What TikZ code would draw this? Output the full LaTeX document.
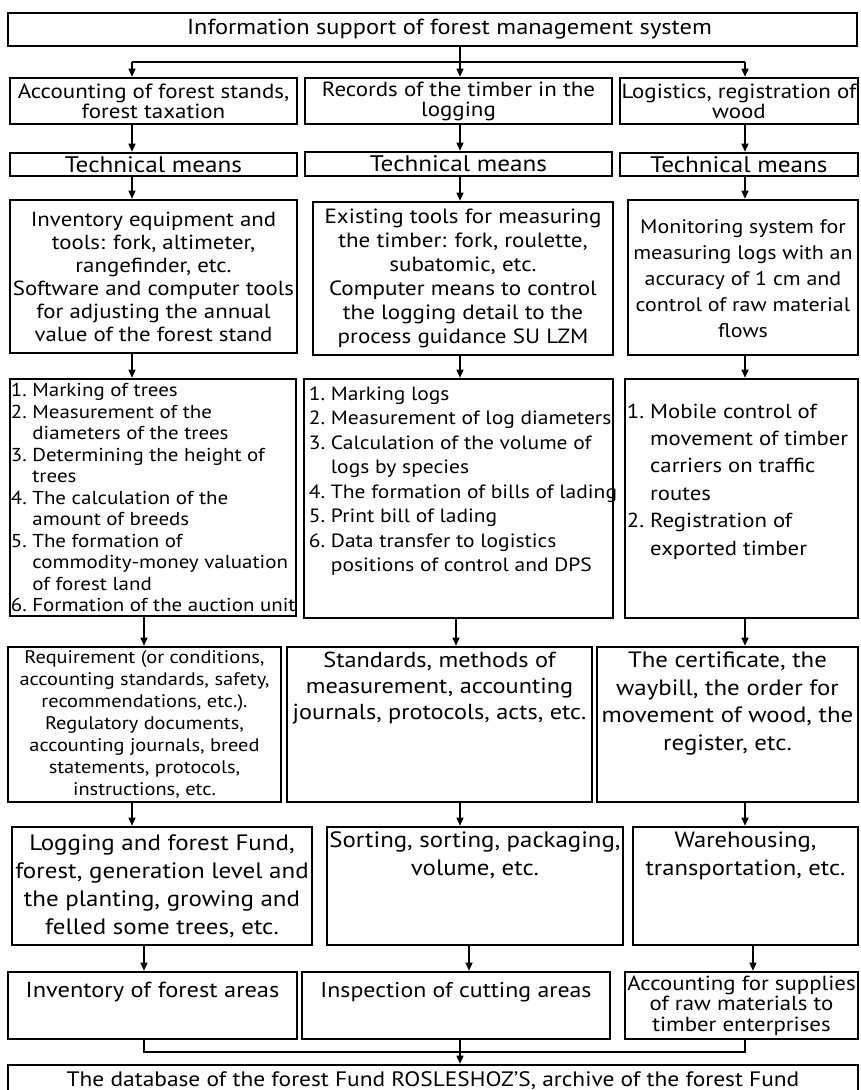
\documentclass[tikz,border=0pt]{standalone}
\usepackage{fontspec}
\setmainfont{PT Sans}[FakeStretch=1.12]
\usetikzlibrary{arrows.meta}
\newcommand\fsz[2]{\fontsize{#1}{#2}\selectfont}
% box given by its corners (x1,y1)-(x2,y2), y grows downwards
\newcommand\bx[7]{\node[box,#6,minimum width={(#4)-(#2)},minimum height={(#5)-(#3)}] (#1) at ({((#2)+(#4))/2},{((#3)+(#5))/2}) {#7};}
\begin{document}
\begin{tikzpicture}[x=1pt,y=-1pt,
  box/.style={draw, line width=2.6pt, inner sep=0pt, align=center, font=\fsz{20}{22}},
  txt/.style={inner sep=0pt, align=center},
  lst/.style={inner sep=0pt, align=left},
  arr/.style={line width=1.4pt, -{Triangle[length=8pt,width=7pt]}},
  ln/.style={line width=1.4pt}]
\useasboundingbox (0,0) rectangle (861,1090);

% top
\bx{T}{8}{13}{857}{46}{font=\fsz{21.8}{24}}{\hspace*{34pt}Information support of forest management system}

% row 2
\bx{A2}{10}{78}{297}{124}{font=\fsz{20.5}{20}}{Accounting of forest stands,\\ forest taxation}
\bx{B2}{305}{78}{612}{124}{font=\fsz{20.5}{20}}{Records of the timber in the\\ logging}
\bx{C2}{620}{78}{858}{124}{font=\fsz{20.5}{20}}{Logistics, registration of\\ wood}

% row 3
\bx{A3}{10}{153}{297}{176}{font=\fsz{22.5}{24}}{Technical means}
\bx{B3}{305}{152}{612}{176}{font=\fsz{22.5}{24}}{Technical means}
\bx{C3}{620}{153}{858}{176}{font=\fsz{22.5}{24}}{Technical means}

% row 4
\bx{A4}{10}{200}{297}{353}{font=\fsz{20.4}{23}}{Inventory equipment and\\ tools: fork, altimeter,\\ rangefinder, etc.\\ Software and computer tools\\ for adjusting the annual\\ value of the forest stand}
\bx{B4}{313}{202}{613}{355}{font=\fsz{20.6}{24}}{Existing tools for measuring\\ the timber: fork, roulette,\\ subatomic, etc.\\ Computer means to control\\ the logging detail to the\\ process guidance SU LZM}
\bx{C4}{628}{200}{858}{355}{}{}
\node[txt, font=\fsz{19.6}{26}] (C4t) at ([yshift=-1pt]C4.center) {Monitoring system for\\ measuring logs with an\\ accuracy of 1 cm and\\ control of raw material\\ flows};

% row 5
\bx{A5}{10}{379}{296}{616}{}{}
\bx{B5}{304}{379}{613}{618}{}{}
\bx{C5}{625}{379}{858}{618}{}{}
\node[lst, anchor=north west, font=\fsz{18.7}{21.5}] (A5t) at ([xshift=2pt,yshift=-4pt]A5.north west)
 {\begin{tabular}{@{}l@{\ }l@{}}
  1. & Marking of trees\\
  2. & Measurement of the\\
     & diameters of the trees\\
  3. & Determining the height of\\
     & trees\\
  4. & The calculation of the\\
     & amount of breeds\\
  5. & The formation of\\
     & commodity-money valuation\\
     & of forest land\\
  6. & Formation of the auction unit
 \end{tabular}};
\node[lst, anchor=north west, font=\fsz{19.2}{24.5}] (B5t) at ([xshift=6pt,yshift=-5pt]B5.north west)
 {\begin{tabular}{@{}l@{\ }l@{}}
  1. & Marking logs\\
  2. & Measurement of log diameters\\
  3. & Calculation of the volume of\\
     & logs by species\\
  4. & The formation of bills of lading\\
  5. & Print bill of lading\\
  6. & Data transfer to logistics\\
     & positions of control and DPS
 \end{tabular}};
\node[lst, anchor=north west, font=\fsz{20.3}{27.4}] (C5t) at ([xshift=3pt,yshift=-21pt]C5.north west)
 {\begin{tabular}{@{}l@{\ }l@{}}
  1. & Mobile control of\\
     & movement of timber\\
     & carriers on traffic\\
     & routes\\
  2. & Registration of\\
     & exported timber
 \end{tabular}};

% row 6
\bx{A6}{8}{647}{281}{802}{font=\fsz{18.2}{22}}{Requirement (or conditions,\\ accounting standards, safety,\\ recommendations, etc.).\\ Regulatory documents,\\ accounting journals, breed\\ statements, protocols,\\ instructions, etc.}
\bx{B6}{287}{647}{592}{802}{}{}
\bx{C6}{597}{647}{858}{802}{}{}
\node[txt, anchor=north, font=\fsz{21.7}{26}] (B6t) at ([yshift=-6pt]B6.north) {Standards, methods of\\ measurement, accounting\\ journals, protocols, acts, etc.};
\node[txt, anchor=north, font=\fsz{22.2}{27.5}] (C6t) at ([yshift=-6pt]C6.north) {The certificate, the\\ waybill, the order for\\ movement of wood, the\\ register, etc.};

% row 7
\bx{A7}{12}{827}{312}{945}{font=\fsz{22.3}{28}}{Logging and forest Fund,\\ forest, generation level and\\ the planting, growing and\\ felled some trees, etc.}
\bx{B7}{327}{827}{623}{945}{}{}
\bx{C7}{633}{827}{858}{945}{}{}
\node[txt, anchor=north, font=\fsz{22.2}{28}] (B7t) at ([yshift=-6pt]B7.north) {Sorting, sorting, packaging,\\ volume, etc.};
\node[txt, anchor=north, font=\fsz{22}{28}] (C7t) at ([yshift=-6pt]C7.north) {Warehousing,\\ transportation, etc.};

% row 8
\bx{A8}{8}{972}{297}{1039}{font=\fsz{21.8}{26}}{Inventory of forest areas\\[6pt]}
\bx{B8}{302}{972}{610}{1039}{font=\fsz{21.3}{26}}{Inspection of cutting areas\\[6pt]}
\bx{C8}{625}{972}{858}{1039}{font=\fsz{20.4}{20.5}}{Accounting for supplies\\ of raw materials to\\ timber enterprises}

% bottom
\bx{D}{8}{1065}{858}{1096}{font=\fsz{20.9}{24}}{\raisebox{3pt}{The database of the forest Fund ROSLESHOZ’S, archive of the forest Fund}}

% column positions of the connectors
\coordinate (k1) at (132,0);
\coordinate (k2) at (460,0);
\coordinate (k3) at (745,0);
\coordinate (m1) at (144,0);
\coordinate (m2) at (456,0);
\coordinate (n2) at (469,0);
\coordinate (n3) at (753,0);
\coordinate (bus) at (0,62);
\coordinate (bus2) at (0,1052);

% connectors
\draw[ln] (T.south -| k2) -- (bus -| k2);
\draw[ln] (bus -| k1) -- (bus -| k3);
\foreach \c in {k1,k2,k3} \draw[arr] (bus -| \c) -- (A2.north -| \c);
\draw[arr] (A2.south -| k1) -- (A3.north -| k1);
\draw[arr] (B2.south -| k2) -- (B3.north -| k2);
\draw[arr] (C2.south -| k3) -- (C3.north -| k3);
\draw[arr] (A3.south -| k1) -- (A4.north -| k1);
\draw[arr] (B3.south -| k2) -- (B4.north -| k2);
\draw[arr] (C3.south -| k3) -- (C4.north -| k3);
\draw[arr] (A4.south -| k1) -- (A5.north -| k1);
\draw[arr] (B4.south -| k2) -- (B5.north -| k2);
\draw[arr] (C4.south -| k3) -- (C5.north -| k3);
\draw[arr] (A5.south -| m1) -- (A6.north -| m1);
\draw[arr] (B5.south -| m2) -- (B6.north -| m2);
\draw[arr] (C5.south -| k3) -- (C6.north -| k3);
\draw[arr] (A6.south -| k1) -- (A7.north -| k1);
\draw[arr] (B6.south -| k2) -- (B7.north -| k2);
\draw[arr] (C6.south -| k3) -- (C7.north -| k3);
\draw[arr] (A7.south -| m1) -- (A8.north -| m1);
\draw[arr] (B7.south -| n2) -- (B8.north -| n2);
\draw[arr] (C7.south -| n3) -- (C8.north -| n3);
\draw[ln] (A8.south -| m1) -- (bus2 -| m1) -- (bus2 -| k3) -- (C8.south -| k3);
\draw[arr] (B8.south -| k2) -- (D.north -| k2);
\end{tikzpicture}
\end{document}
